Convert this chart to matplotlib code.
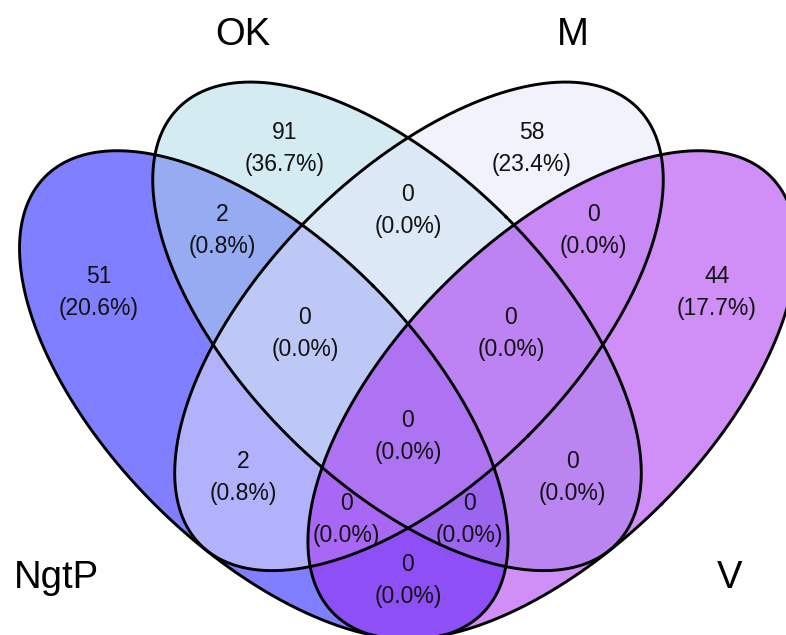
import numpy as np
import matplotlib
matplotlib.use("Agg")
import matplotlib.pyplot as plt

# Four-set Venn diagram: NgtP, OK, M, V
set_names = ["NgtP", "OK", "M", "V"]
set_colors = ["#0000FF", "#ADD8E6", "#E6E6FA", "#A020F0"]

# Region membership (which sets) and element counts
regions = [
    ("NgtP",), ("OK",), ("M",), ("V",),
    ("NgtP", "OK"), ("OK", "M"), ("M", "V"),
    ("NgtP", "M"), ("OK", "V"), ("NgtP", "V"),
    ("NgtP", "OK", "M"), ("OK", "M", "V"),
    ("NgtP", "M", "V"), ("NgtP", "OK", "V"),
    ("NgtP", "OK", "M", "V"),
]
counts = [51, 91, 58, 44, 2, 0, 0, 2, 0, 0, 0, 0, 0, 0, 0]

# Ellipses: centre x, centre y, semi-axis x, semi-axis y, rotation (rad)
shapes = {
    "NgtP": (-0.70, -0.5, 0.75, 1.5, np.pi / 4),
    "OK":   (-0.72 + 2 / 3, -1 / 6, 0.75, 1.5, np.pi / 4),
    "M":    (0.72 - 2 / 3, -1 / 6, 0.75, 1.5, -np.pi / 4),
    "V":    (0.70, -0.5, 0.75, 1.5, -np.pi / 4),
}

# Anchor of each region's label
label_pos = {
    ("NgtP",): (-1.5, 0.0),
    ("OK",): (-0.6, 0.7),
    ("M",): (0.6, 0.7),
    ("V",): (1.5, 0.0),
    ("NgtP", "OK"): (-0.9, 0.3),
    ("OK", "M"): (0.0, 0.4),
    ("M", "V"): (0.9, 0.3),
    ("NgtP", "M"): (-0.8, -0.9),
    ("OK", "V"): (0.8, -0.9),
    ("NgtP", "V"): (0.0, -1.4),
    ("NgtP", "OK", "M"): (-0.5, -0.2),
    ("OK", "M", "V"): (0.5, -0.2),
    ("NgtP", "M", "V"): (-0.3, -1.1),
    ("NgtP", "OK", "V"): (0.3, -1.1),
    ("NgtP", "OK", "M", "V"): (0.0, -0.7),
}
# Set name anchors with alignment
set_label_pos = {
    "NgtP": (-1.5, -1.3, "right", "top"),
    "OK": (-0.8, 1.2, "center", "baseline"),
    "M": (0.8, 1.2, "center", "baseline"),
    "V": (1.5, -1.3, "left", "top"),
}


def ellipse_xy(cx, cy, ra, rb, th, n=400):
    t = np.linspace(0, 2 * np.pi, n)
    xr = ra * np.cos(t)
    yr = rb * np.sin(t)
    x = cx + xr * np.cos(th) - yr * np.sin(th)
    y = cy + xr * np.sin(th) + yr * np.cos(th)
    return x, y


plt.rcParams["font.family"] = ["Liberation Sans", "DejaVu Sans"]

fig = plt.figure(figsize=(7.86, 6.35), dpi=100)
ax = fig.add_axes([0, 0, 1, 1])
ax.set_xlim(-1.9806, 1.8350)
ax.set_ylim(-1.6650, 1.4175)
ax.axis("off")

for name, col in zip(set_names, set_colors):
    x, y = ellipse_xy(*shapes[name])
    ax.fill(x, y, color=col, alpha=0.5, lw=0, zorder=1)
for name in set_names:
    x, y = ellipse_xy(*shapes[name])
    ax.plot(x, y, color="black", lw=2.1, zorder=2)

total = sum(counts)
for reg, n in zip(regions, counts):
    px, py = label_pos[reg]
    pct = 100.0 * n / total
    ax.text(px, py + 0.044, f"{n}", ha="center", va="baseline",
            fontsize=16.5, color="#111111", zorder=3)
    ax.text(px, py - 0.112, f"({pct:.1f}%)", ha="center", va="baseline",
            fontsize=16.5, color="#111111", zorder=3)

for name in set_names:
    px, py, ha, va = set_label_pos[name]
    ax.text(px, py, name, ha=ha, va=va, fontsize=27.5,
            color="black", zorder=3)

fig.savefig("out.png", dpi=100)
